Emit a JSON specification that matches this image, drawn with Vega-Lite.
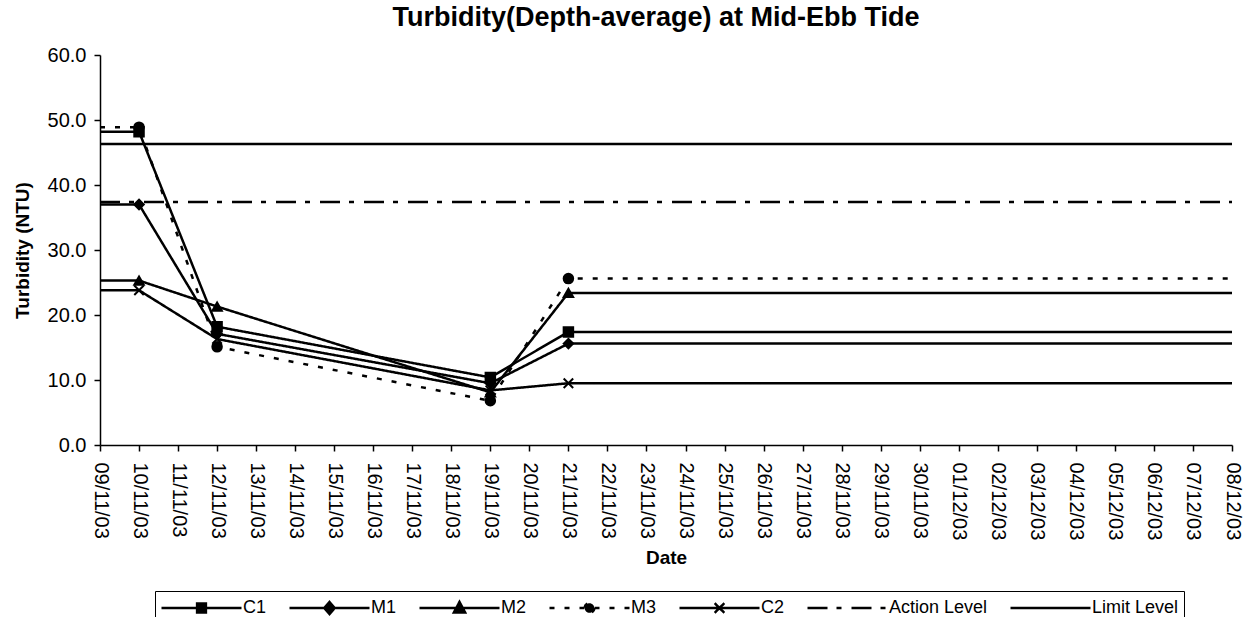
{
  "$schema": "https://vega.github.io/schema/vega-lite/v6.json",
  "width": 1132,
  "height": 390,
  "autosize": {"type": "none"},
  "padding": {"left": 100, "top": 55, "right": 11, "bottom": 172},
  "background": "white",
  "title": {
    "text": "Turbidity(Depth-average) at Mid-Ebb Tide",
    "font": "Liberation Sans",
    "fontSize": 27,
    "fontWeight": "bold",
    "color": "black",
    "anchor": "middle",
    "dx": -10,
    "offset": 13
  },
  "config": {
    "view": {"stroke": null},
    "axis": {
      "grid": false,
      "domainColor": "black",
      "domainWidth": 1.5,
      "tickColor": "black",
      "tickWidth": 1.5,
      "tickSize": 6,
      "labelColor": "black",
      "labelFont": "Liberation Sans",
      "labelFontSize": 20,
      "titleFont": "Liberation Sans",
      "titleFontSize": 19,
      "titleFontWeight": "bold",
      "titleColor": "black"
    }
  },
  "data": {
    "values": [
      {"date": "2003-11-09", "station": "C1", "value": 48.2},
      {"date": "2003-11-10", "station": "C1", "value": 48.2},
      {"date": "2003-11-12", "station": "C1", "value": 18.2},
      {"date": "2003-11-19", "station": "C1", "value": 10.4},
      {"date": "2003-11-21", "station": "C1", "value": 17.4},
      {"date": "2003-12-08", "station": "C1", "value": 17.4},
      {"date": "2003-11-09", "station": "M1", "value": 37.0},
      {"date": "2003-11-10", "station": "M1", "value": 37.0},
      {"date": "2003-11-12", "station": "M1", "value": 17.1},
      {"date": "2003-11-19", "station": "M1", "value": 9.5},
      {"date": "2003-11-21", "station": "M1", "value": 15.6},
      {"date": "2003-12-08", "station": "M1", "value": 15.6},
      {"date": "2003-11-09", "station": "M2", "value": 25.3},
      {"date": "2003-11-10", "station": "M2", "value": 25.3},
      {"date": "2003-11-12", "station": "M2", "value": 21.3},
      {"date": "2003-11-19", "station": "M2", "value": 8.1},
      {"date": "2003-11-21", "station": "M2", "value": 23.4},
      {"date": "2003-12-08", "station": "M2", "value": 23.4},
      {"date": "2003-11-09", "station": "M3", "value": 48.9},
      {"date": "2003-11-10", "station": "M3", "value": 48.9},
      {"date": "2003-11-12", "station": "M3", "value": 15.1},
      {"date": "2003-11-19", "station": "M3", "value": 6.8},
      {"date": "2003-11-21", "station": "M3", "value": 25.6},
      {"date": "2003-12-08", "station": "M3", "value": 25.6},
      {"date": "2003-11-09", "station": "C2", "value": 23.8},
      {"date": "2003-11-10", "station": "C2", "value": 23.8},
      {"date": "2003-11-12", "station": "C2", "value": 16.3},
      {"date": "2003-11-19", "station": "C2", "value": 8.4},
      {"date": "2003-11-21", "station": "C2", "value": 9.5},
      {"date": "2003-12-08", "station": "C2", "value": 9.5},
      {"date": "2003-11-09", "station": "Action Level", "value": 37.4},
      {"date": "2003-12-08", "station": "Action Level", "value": 37.4},
      {"date": "2003-11-09", "station": "Limit Level", "value": 46.3},
      {"date": "2003-12-08", "station": "Limit Level", "value": 46.3}
    ]
  },
  "encoding": {
    "x": {
      "field": "date",
      "type": "temporal",
      "timeUnit": "utcyearmonthdate",
      "title": "Date",
      "scale": {
        "domain": [
          {"year": 2003, "month": 11, "date": 9, "utc": true},
          {"year": 2003, "month": 12, "date": 8, "utc": true}
        ]
      },
      "axis": {
        "format": "%d/%m/%y",
        "tickCount": {"interval": "day", "step": 1},
        "labelAngle": 90,
        "labelAlign": "left",
        "labelBaseline": "middle",
        "labelPadding": 11,
        "labelOverlap": false,
        "labelFlush": false,
        "titlePadding": 9
      }
    },
    "y": {
      "field": "value",
      "type": "quantitative",
      "title": "Turbidity (NTU)",
      "scale": {"domain": [0, 60], "nice": false},
      "axis": {"values": [0, 10, 20, 30, 40, 50, 60], "format": ".1f", "labelPadding": 8, "titlePadding": 15}
    }
  },
  "layer": [
    {
      "mark": {"type": "line", "color": "black", "strokeWidth": 2.5},
      "encoding": {
        "strokeDash": {
          "field": "station",
          "type": "nominal",
          "title": null,
          "scale": {
            "domain": ["C1", "M1", "M2", "M3", "C2", "Action Level", "Limit Level"],
            "range": [[1, 0], [1, 0], [1, 0], [5, 10], [1, 0], [20, 9, 5, 10], [1, 0]]
          },
          "legend": {
            "orient": "none",
            "legendX": 55,
            "legendY": 536,
            "direction": "horizontal",
            "columns": 7,
            "columnPadding": 21,
            "padding": 5,
            "clipHeight": 24,
            "strokeColor": "black",
            "fillColor": "white",
            "labelFont": "Liberation Sans",
            "labelFontSize": 18,
            "labelColor": "black",
            "labelOffset": 0,
            "symbolSize": 6400,
            "symbolStrokeWidth": 2.5,
            "symbolStrokeColor": "black",
            "symbolFillColor": "black",
            "encode": {
              "symbols": {
                "update": {
                  "shape": {
                    "signal": "datum.value === 'C1' ? 'M-1,0H1M-0.11,-0.11H0.11V0.11H-0.11Z' : datum.value === 'M1' ? 'M-1,0H1M0,-0.15L0.13,0L0,0.15L-0.13,0Z' : datum.value === 'M2' ? 'M-1,0H1M-0.14,0.11L0,-0.15L0.14,0.11Z' : datum.value === 'M3' ? 'M-1,0H1M0.12,0A0.12,0.12 0 1,1 -0.12,0A0.12,0.12 0 1,1 0.12,0Z' : datum.value === 'C2' ? 'M-1,0H1M-0.12,-0.12L0.12,0.12M-0.12,0.12L0.12,-0.12' : 'M-1,0H1'"
                  },
                  "fill": {"value": "black"},
                  "stroke": {"value": "black"}
                }
              }
            }
          }
        }
      }
    },
    {
      "transform": [
        {"filter": "time(datum.date) >= utc(2003,10,10) && time(datum.date) <= utc(2003,10,21) && datum.station !== 'Action Level' && datum.station !== 'Limit Level'"}
      ],
      "mark": {"type": "point", "filled": true, "color": "black", "stroke": "black", "strokeWidth": 2, "size": 90, "opacity": 1},
      "encoding": {
        "shape": {
          "field": "station",
          "type": "nominal",
          "scale": {
            "domain": ["C1", "M1", "M2", "M3", "C2"],
            "range": ["square", "diamond", "triangle-up", "circle", "M-1,-1L1,1M-1,1L1,-1"]
          },
          "legend": null
        }
      }
    }
  ]
}
